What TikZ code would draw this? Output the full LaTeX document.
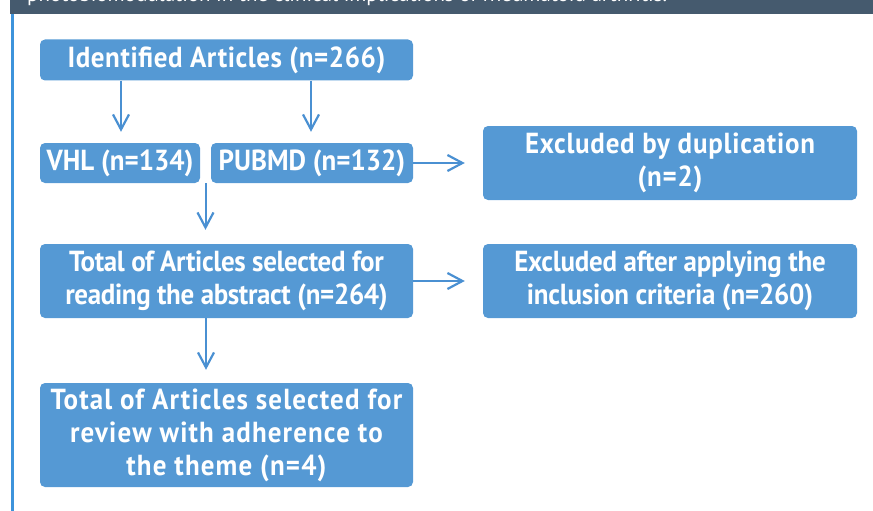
\documentclass[tikz,border=0pt]{standalone}
\usepackage{fontspec}
\setmainfont{PT Sans}[FakeStretch=0.93]
\newfontfamily\bandfont{PT Sans}
\usetikzlibrary{arrows.meta,calc}
\definecolor{boxblue}{HTML}{5599D4}
\definecolor{arrblue}{HTML}{4A90D2}
\definecolor{bandgray}{HTML}{455A6E}
\definecolor{lineblue}{HTML}{3D93DB}
\tikzset{
  flowbox/.style={rectangle, rounded corners=5pt, fill=boxblue, text=white,
    font=\fontsize{29}{33}\selectfont\bfseries, align=center, inner sep=0pt},
  spaced/.style={font=\fontsize{29}{33}\selectfont\bfseries\addfontfeature{LetterSpace=#1}},
  flowarrow/.style={draw=arrblue, line width=2pt, -{Straight Barb[length=15pt,width=16pt,line width=2.2pt]}}
}
\begin{document}
\begin{tikzpicture}[x=1pt,y=-1pt]
\useasboundingbox (0,0) rectangle (873,511);
% top band with clipped title text
\fill[bandgray] (10,0) rectangle (873,14.5);
\begin{scope}
\clip (10,0) rectangle (873,14.5);
\node[anchor=base west, text=white, font=\bandfont\fontsize{21}{24}\selectfont, inner sep=0pt] (bandtext) at (27,1.5) {photobiomodulation in the clinical implications of rheumatoid arthritis.};
\end{scope}
\fill[lineblue] (11,14.5) rectangle (14,511);
% boxes
\node[flowbox, spaced=2, minimum width=373pt, minimum height=41pt] (b1) at (226.5,60) {Identified Articles (n=266)};
\node[flowbox, minimum width=160pt, minimum height=40pt] (vhl) at (120,163) {VHL (n=134)};
\node[flowbox, minimum width=202pt, minimum height=40pt] (pub) at (312,163) {PUBMD (n=132)};
\node[flowbox, spaced=2.6, minimum width=374pt, minimum height=74pt] (dup) at (670,163) {Excluded by duplication\\(n=2)};
\node[flowbox, spaced=-1.2, minimum width=373pt, minimum height=74pt] (tot) at (226.5,281) {Total of Articles selected for\\reading the abstract (n=264)};
\node[flowbox, spaced=-0.8, minimum width=374pt, minimum height=74pt] (exc) at (670,281) {Excluded after applying the\\inclusion criteria (n=260)};
\node[flowbox, spaced=3.9, minimum width=373pt, minimum height=104pt] (fin) at (226.5,435) {Total of Articles selected for\\review with adherence to\\the theme (n=4)};
% connectors
\coordinate (split) at ($(vhl.south east)!0.5!(pub.south west)$);
\coordinate (totdown) at (206,318);
\draw[flowarrow, shorten >=11pt] (b1.south -| 121,0) -- (vhl.north -| 121,0);
\draw[flowarrow, shorten >=11pt] (b1.south -| 311,0) -- (pub.north -| 311,0);
\draw[flowarrow, shorten >=18pt] (pub.east) -- (dup.west);
\draw[flowarrow, shorten >=14pt] (split) -- (split |- tot.north);
\draw[flowarrow, shorten >=18pt] (tot.east) -- (exc.west);
\draw[flowarrow, shorten >=13pt] (totdown |- tot.south) -- (totdown |- fin.north);
\end{tikzpicture}
\end{document}
